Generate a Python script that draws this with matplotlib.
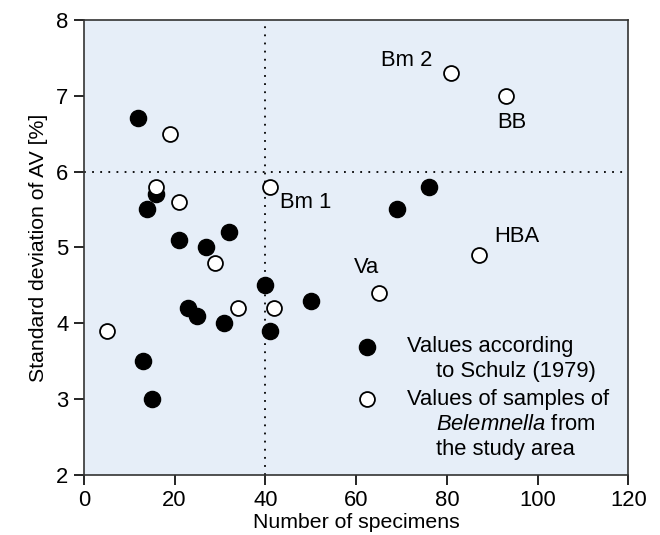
import numpy as np
import matplotlib
matplotlib.use('Agg')
from matplotlib import pyplot as plt

plt.rcParams['font.family'] = ['Liberation Sans', 'DejaVu Sans']
plt.rcParams['mathtext.fontset'] = 'custom'
plt.rcParams['mathtext.it'] = 'Liberation Sans:italic'
plt.rcParams['mathtext.rm'] = 'Liberation Sans'

# Schulz (1979) values
schulz_n = [12, 14, 16, 21, 27, 32, 23, 25, 31, 40, 41, 50, 13, 15, 69, 76]
schulz_sd = [6.7, 5.5, 5.7, 5.1, 5.0, 5.2, 4.2, 4.1, 4.0, 4.5, 3.9, 4.3, 3.5, 3.0, 5.5, 5.8]

# samples of Belemnella from the study area
study_n = [19, 16, 21, 29, 34, 42, 5, 41, 65, 87, 81, 93]
study_sd = [6.5, 5.8, 5.6, 4.8, 4.2, 4.2, 3.9, 5.8, 4.4, 4.9, 7.3, 7.0]

labels = ['Bm 1', 'Va', 'HBA', 'Bm 2', 'BB']
label_x = [43.2, 59.6, 90.4, 76.8, 91.1]
label_y = [5.59, 4.73, 5.15, 7.47, 6.65]
label_ha = ['left', 'left', 'left', 'right', 'left']

fs = 15.8

fig = plt.figure(figsize=(6.6, 5.35), dpi=100)
ax = fig.add_axes([0.127, 0.112, 0.825, 0.851])
ax.set_facecolor('#e6eef8')

ax.axvline(40, color='black', linestyle=(0, (1, 3.5)), linewidth=1.3, zorder=1)
ax.axhline(6, color='black', linestyle=(0, (1, 3.5)), linewidth=1.3, zorder=1)

ax.scatter(schulz_n, schulz_sd, s=135, c='black', edgecolors='black', zorder=3)
ax.scatter(study_n, study_sd, s=115, c='white', edgecolors='black', linewidths=1.3, zorder=3)

for t, x, y, ha in zip(labels, label_x, label_y, label_ha):
    ax.text(x, y, t, ha=ha, va='center', fontsize=fs)

# legend drawn by hand to keep the indented lines
ax.scatter([62.5], [3.69], s=135, c='black', zorder=3)
ax.scatter([62.5], [3.0], s=115, c='white', edgecolors='black', linewidths=1.3, zorder=3)
ax.text(71.3, 3.69, 'Values according', va='center', fontsize=fs)
ax.text(77.7, 3.36, 'to Schulz (1979)', va='center', fontsize=fs)
ax.text(71.3, 3.0, 'Values of samples of', va='center', fontsize=fs)
ax.text(77.7, 2.67, r'$\mathit{Belemnella}$ from', va='center', fontsize=fs)
ax.text(77.7, 2.34, 'the study area', va='center', fontsize=fs)

ax.set_xlim(0, 120)
ax.set_ylim(2, 8)
ax.set_xticks(np.arange(0, 121, 20))
ax.set_yticks(np.arange(2, 9, 1))
ax.tick_params(direction='out', length=7, width=1.2, pad=4, labelsize=fs, top=False, right=False)
for sp in ax.spines.values():
    sp.set_linewidth(1.2)
    sp.set_color('#333333')
ax.set_xlabel('Number of specimens', fontsize=15.3, labelpad=1)
ax.set_ylabel('Standard deviation of AV [%]', fontsize=15.3, labelpad=6)

plt.savefig('out.png', dpi=100)
